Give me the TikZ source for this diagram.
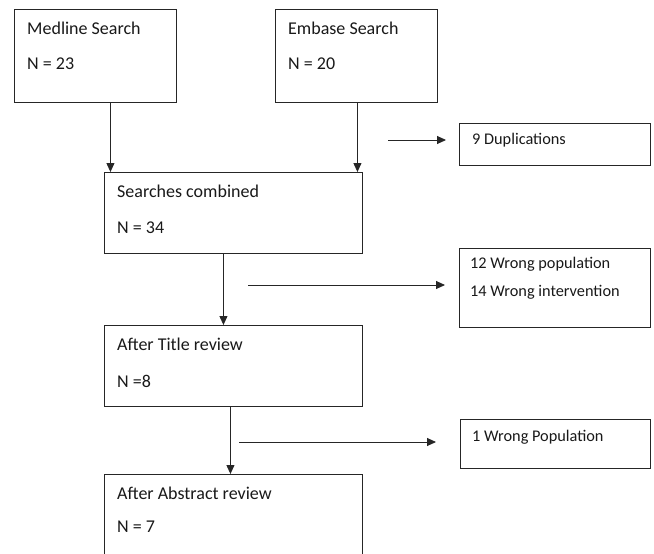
\documentclass[tikz,border=0pt]{standalone}
\usepackage{fontspec}
\setmainfont{Carlito}
\usetikzlibrary{arrows.meta}
\begin{document}
\begin{tikzpicture}[x=1pt,y=-1pt,
  box/.style={draw=black!85, line width=0.9pt, anchor=north west, inner sep=0pt},
  lbl/.style={anchor=west, inner sep=0pt, font=\fontsize{18pt}{21pt}\selectfont, text=black!90},
  slbl/.style={anchor=west, inner sep=0pt, font=\fontsize{16.3pt}{19pt}\selectfont, text=black!90},
  arr/.style={draw=black!85, line width=0.9pt, -{Triangle[length=9pt,width=8pt]}}]
\useasboundingbox[fill=white] (0,0) rectangle (654,554);
% boxes
\node[box, minimum width=162pt, minimum height=93pt] (med) at (14,9) {};
\node[box, minimum width=162pt, minimum height=93pt] (emb) at (275,9) {};
\node[box, minimum width=258pt, minimum height=81pt] (comb) at (104,172) {};
\node[box, minimum width=258pt, minimum height=81pt] (title) at (104,325) {};
\node[box, minimum width=258pt, minimum height=90pt] (abs) at (104,474) {};
\node[box, minimum width=191pt, minimum height=42pt] (dup) at (459,123) {};
\node[box, minimum width=191pt, minimum height=79pt] (wrong1) at (459,248) {};
\node[box, minimum width=190pt, minimum height=49pt] (wrong2) at (460,419) {};
% texts
\node[lbl] (medA) at (27,28) {Medline Search};
\node[lbl] (medB) at (27,64) {N = 23};
\node[lbl] (embA) at (288,28) {Embase Search};
\node[lbl] (embB) at (288,64) {N = 20};
\node[lbl] (combA) at (117,191) {Searches combined};
\node[lbl] (combB) at (117,228) {N = 34};
\node[lbl] (titleA) at (117,344) {After Title review};
\node[lbl] (titleB) at (117,381) {N =8};
\node[lbl] (absA) at (117,493) {After Abstract review};
\node[lbl] (absB) at (117,527) {N = 7};
\node[slbl] (dupA) at (472,140) {9 Duplications};
\node[slbl] (w1A) at (470,264) {12 Wrong population};
\node[slbl] (w1B) at (470,292) {14 Wrong intervention};
\node[slbl] (w2A) at (472,437) {1 Wrong Population};
% vertical arrows
\draw[arr] ([xshift=15pt]med.south) -- ([xshift=15pt]med.south |- comb.north);
\draw[arr] ([xshift=1pt]emb.south) -- ([xshift=1pt]emb.south |- comb.north);
\draw[arr] ([xshift=-10pt]comb.south) -- ([xshift=-10pt]comb.south |- title.north);
\draw[arr] ([xshift=-3pt]title.south) -- ([xshift=-3pt]title.south |- abs.north);
% horizontal arrows
\coordinate (d0) at (388,140);
\coordinate (w10) at (248,285);
\coordinate (w20) at (239,442);
\draw[arr] (d0) -- ([xshift=-13pt]dup.west |- d0);
\draw[arr] (w10) -- ([xshift=-14pt]wrong1.west |- w10);
\draw[arr] (w20) -- ([xshift=-24pt]wrong2.west |- w20);
\end{tikzpicture}
\end{document}
